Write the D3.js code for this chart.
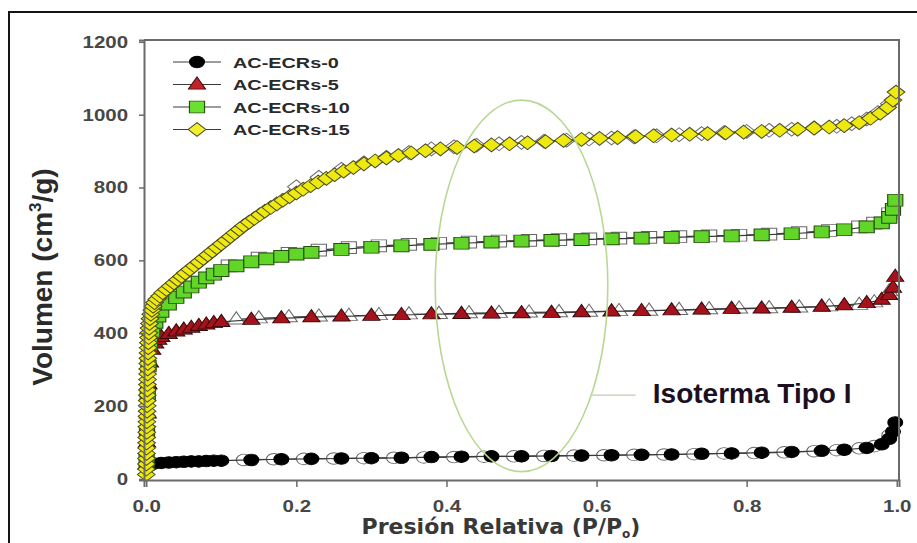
<!DOCTYPE html>
<html>
<head>
<meta charset="utf-8">
<script src="https://cdn.jsdelivr.net/npm/d3@7"></script>
<style>
  html, body { margin: 0; padding: 0; background: #ffffff; }
  svg { display: block; }
</style>
</head>
<body>
<svg id="chart" width="917" height="543"></svg>
<script>
// ---------------- DATA ----------------
const seriesNames = ["AC-ECRs-0", "AC-ECRs-5", "AC-ECRs-10", "AC-ECRs-15"];
const xTicks = [0.0, 0.2, 0.4, 0.6, 0.8, 1.0];
const yTicks = [0, 200, 400, 600, 800, 1000, 1200];

// AC-ECRs-0 (adsorption, filled)
const p0Ads = [0.004, 0.01, 0.02, 0.03, 0.04, 0.05, 0.06, 0.07, 0.08, 0.09, 0.10, 0.14, 0.18, 0.22, 0.26, 0.30, 0.34, 0.38, 0.42, 0.46, 0.50, 0.54, 0.58, 0.62, 0.66, 0.70, 0.74, 0.78, 0.82, 0.86, 0.90, 0.93, 0.96, 0.98, 0.99, 0.995, 0.998];
const v0Ads = [36, 42, 44, 45, 46, 47, 48, 48, 49, 50, 50, 52, 54, 55, 56, 57, 58, 60, 61, 62, 62, 63, 64, 65, 66, 67, 69, 70, 72, 74, 77, 80, 85, 95, 110, 130, 155];
// AC-ECRs-0 (desorption, open)
const p0Des = [0.99, 0.97, 0.95, 0.92, 0.89, 0.85, 0.81, 0.77, 0.73, 0.69, 0.65, 0.61, 0.57, 0.53, 0.49, 0.45, 0.41, 0.37, 0.33, 0.29, 0.25, 0.21, 0.17, 0.13];
const v0Des = [120, 90, 84, 79, 76, 73, 71, 70, 68, 67, 66, 65, 64, 63, 62, 61, 60, 59, 58, 57, 56, 55, 54, 52];

// AC-ECRs-5
const p5Ads = [0.0005, 0.001, 0.002, 0.003, 0.005, 0.008, 0.012, 0.016, 0.02, 0.03, 0.04, 0.05, 0.06, 0.07, 0.08, 0.09, 0.10, 0.14, 0.18, 0.22, 0.26, 0.30, 0.34, 0.38, 0.42, 0.46, 0.50, 0.54, 0.58, 0.62, 0.66, 0.70, 0.74, 0.78, 0.82, 0.86, 0.90, 0.93, 0.96, 0.98, 0.99, 0.995, 0.998];
const v5Ads = [40, 100, 180, 260, 320, 355, 372, 382, 390, 398, 405, 410, 415, 420, 424, 428, 431, 437, 441, 444, 446, 448, 450, 452, 453, 454, 455, 456, 458, 460, 461, 463, 465, 467, 468, 470, 473, 477, 483, 492, 505, 525, 555];
const p5Des = [0.99, 0.97, 0.95, 0.91, 0.87, 0.83, 0.79, 0.75, 0.71, 0.67, 0.63, 0.59, 0.55, 0.51, 0.47, 0.43, 0.39, 0.35, 0.31, 0.27, 0.23, 0.19, 0.15, 0.12];
const v5Des = [515, 485, 478, 474, 471, 469, 468, 466, 464, 462, 461, 459, 458, 457, 456, 455, 453, 452, 450, 448, 446, 444, 441, 438];

// AC-ECRs-10
const p10Ads = [0.0005, 0.001, 0.002, 0.003, 0.005, 0.008, 0.012, 0.016, 0.02, 0.03, 0.04, 0.05, 0.06, 0.07, 0.08, 0.09, 0.10, 0.12, 0.14, 0.16, 0.18, 0.20, 0.22, 0.26, 0.30, 0.34, 0.38, 0.42, 0.46, 0.50, 0.54, 0.58, 0.62, 0.66, 0.70, 0.74, 0.78, 0.82, 0.86, 0.90, 0.93, 0.96, 0.98, 0.99, 0.995, 0.998];
const v10Ads = [50, 130, 230, 310, 370, 405, 430, 447, 460, 480, 498, 513, 527, 540, 552, 562, 572, 585, 596, 604, 611, 617, 622, 630, 636, 640, 644, 647, 650, 653, 655, 657, 659, 661, 663, 665, 667, 670, 673, 678, 684, 692, 703, 718, 740, 765];
const p10Des = [0.99, 0.97, 0.95, 0.91, 0.87, 0.83, 0.79, 0.75, 0.71, 0.67, 0.63, 0.59, 0.55, 0.51, 0.47, 0.43, 0.39, 0.35, 0.31, 0.27, 0.23, 0.19, 0.15, 0.11];
const v10Des = [728, 702, 692, 682, 676, 672, 669, 667, 665, 663, 661, 659, 657, 655, 653, 650, 647, 644, 640, 635, 628, 619, 606, 585];

// AC-ECRs-15
const p15Ads = [0.0000, 0.0001, 0.0002, 0.0003, 0.0004, 0.0004, 0.0005, 0.0006, 0.0007, 0.0008, 0.0009, 0.0010, 0.0011, 0.0012, 0.0013, 0.0014, 0.0015, 0.0016, 0.0017, 0.0018, 0.0019, 0.0020, 0.0022, 0.0024, 0.0026, 0.0028, 0.0031, 0.0034, 0.0038, 0.0043, 0.0050, 0.0060, 0.0075, 0.0092, 0.011, 0.014, 0.018, 0.022, 0.027, 0.032, 0.037, 0.042, 0.047, 0.052, 0.058, 0.064, 0.070, 0.076, 0.082, 0.088, 0.094, 0.100, 0.106, 0.112, 0.118, 0.124, 0.130, 0.137, 0.144, 0.151, 0.158, 0.166, 0.174, 0.182, 0.191, 0.200, 0.209, 0.219, 0.229, 0.240, 0.251, 0.263, 0.276, 0.290, 0.305, 0.320, 0.336, 0.353, 0.372, 0.392, 0.414, 0.437, 0.460, 0.484, 0.508, 0.532, 0.556, 0.580, 0.604, 0.628, 0.652, 0.676, 0.700, 0.724, 0.748, 0.772, 0.796, 0.820, 0.844, 0.868, 0.890, 0.910, 0.930, 0.950, 0.965, 0.978, 0.988, 0.995, 0.999];
const v15Ads = [12, 27, 41, 56, 70, 85, 99, 114, 128, 143, 157, 172, 186, 201, 215, 230, 244, 259, 273, 288, 302, 317, 331, 346, 360, 374, 388, 401, 414, 427, 440, 452, 463, 474, 484, 493, 502, 511, 520, 529, 538, 547, 556, 565, 575, 585, 595, 605, 615, 625, 635, 645, 655, 665, 675, 685, 695, 705, 715, 725, 735, 745, 755, 765, 775, 785, 795, 805, 815, 825, 835, 845, 855, 865, 873, 881, 888, 895, 901, 906, 910, 914, 917, 920, 923, 926, 929, 932, 935, 937, 940, 942, 944, 946, 948, 950, 952, 954, 957, 960, 963, 966, 970, 978, 990, 1004, 1020, 1040, 1062];
const p15Des = [0.99, 0.975, 0.96, 0.94, 0.92, 0.89, 0.86, 0.83, 0.80, 0.77, 0.74, 0.71, 0.68, 0.65, 0.62, 0.59, 0.56, 0.53, 0.50, 0.47, 0.44, 0.41, 0.38, 0.35, 0.32, 0.29, 0.26, 0.23, 0.20];
const v15Des = [1030, 1006, 988, 975, 968, 964, 960, 957, 954, 951, 948, 945, 942, 939, 936, 933, 930, 927, 924, 920, 916, 912, 906, 896, 883, 868, 850, 828, 802];

// ---------------- SETUP ----------------
const svg = d3.select("#chart");
const x = d3.scaleLinear().domain([-0.003, 1.003]).range([144, 899]);
const y = d3.scaleLinear().domain([-3, 1205]).range([480, 40]);
const SX = 1.28; // horizontal stretch of the original picture

// outer frame
svg.append("rect").attr("x", 9).attr("y", 12).attr("width", 1000).attr("height", 600)
  .attr("fill", "#ffffff").attr("stroke", "#151515").attr("stroke-width", 2);

// marker shapes
function markerPath(kind) {
  if (kind === "circle") { const r = 5.8; return `M${-r},0A${r},${r} 0 1,0 ${r},0A${r},${r} 0 1,0 ${-r},0Z`; }
  if (kind === "triangle") return "M0,-7.6L6.7,4.6L-6.7,4.6Z";
  if (kind === "square") return "M-5.9,-5.9H5.9V5.9H-5.9Z";
  if (kind === "diamond") return "M0,-6.9L6.9,0L0,6.9L-6.9,0Z";
}
const styles = [
  { kind: "circle",   fill: "#000000", stroke: "#000000" },
  { kind: "triangle", fill: "#a5121c", stroke: "#3a0a0a" },
  { kind: "square",   fill: "#62d628", stroke: "#24500e" },
  { kind: "diamond",  fill: "#eeea10", stroke: "#4a4a20" }
];
const legendFills = ["#000000", "#c0242a", "#6ae030", "#f2ee30"];
const series = [
  { ads: d3.zip(p0Ads, v0Ads),   des: d3.zip(p0Des, v0Des) },
  { ads: d3.zip(p5Ads, v5Ads),   des: d3.zip(p5Des, v5Des) },
  { ads: d3.zip(p10Ads, v10Ads), des: d3.zip(p10Des, v10Des) },
  { ads: d3.zip(p15Ads, v15Ads), des: d3.zip(p15Des, v15Des) }
];
const line = d3.line().x(d => x(d[0])).y(d => y(d[1]));

const plot = svg.append("g");
series.forEach((s, i) => {
  const st = styles[i];
  const g = plot.append("g");
  // desorption branch (open markers)
  g.append("path").attr("d", line(s.des)).attr("fill", "none").attr("stroke", "#3a3a3a").attr("stroke-width", 1.2);
  g.selectAll(".des").data(s.des).enter().append("path")
    .attr("d", markerPath(st.kind))
    .attr("transform", d => `translate(${x(d[0])},${y(d[1])}) scale(${SX},1)`)
    .attr("fill", "#ffffff").attr("stroke", "#6a6a6a").attr("stroke-width", 0.9);
  // adsorption branch (filled markers)
  g.append("path").attr("d", line(s.ads)).attr("fill", "none").attr("stroke", "#3a3a3a").attr("stroke-width", 1.2);
  g.selectAll(".ads").data(s.ads).enter().append("path")
    .attr("d", markerPath(st.kind))
    .attr("transform", d => `translate(${x(d[0])},${y(d[1])}) scale(${SX},1)`)
    .attr("fill", st.fill).attr("stroke", st.stroke).attr("stroke-width", 0.9);
});

// frame (top/right)
svg.append("path").attr("d", `M${x.range()[0]},${y.range()[1]}H${x.range()[1]}V${y.range()[0]}`)
  .attr("fill", "none").attr("stroke", "#6a6a6a").attr("stroke-width", 2);

// axes
const yAxis = svg.append("g").attr("transform", `translate(${x.range()[0]},0)`)
  .call(d3.axisLeft(y).tickValues(yTicks).tickSize(5).tickFormat(d3.format("d")));
const xAxis = svg.append("g").attr("transform", `translate(0,${y.range()[0]})`)
  .call(d3.axisBottom(x).tickValues(xTicks).tickSize(7).tickFormat(d3.format(".1f")));
[xAxis, yAxis].forEach(a => {
  a.select(".domain").attr("stroke", "#6a6a6a").attr("stroke-width", 2);
  a.selectAll(".tick line").attr("stroke", "#6a6a6a").attr("stroke-width", 1.5);
  a.selectAll(".tick text").attr("font-family", "Liberation Sans, Arial, sans-serif")
    .attr("font-weight", "bold").attr("font-size", 16).attr("fill", "#474747");
});
yAxis.selectAll(".tick text").attr("x", -16 / SX).attr("dy", "0.34em").attr("transform", `scale(${SX},1)`);
xAxis.selectAll(".tick text").attr("y", 32).attr("dy", 0).attr("transform", `scale(${SX},1)`);

// legend
const legendRows = [62, 84.5, 107, 129.5];
seriesNames.forEach((name, i) => {
  const st = styles[i];
  const g = svg.append("g").attr("transform", `translate(0,${legendRows[i]})`);
  g.append("line").attr("x1", 173).attr("x2", 221).attr("y1", 0).attr("y2", 0).attr("stroke", "#3a3a3a").attr("stroke-width", 1.2);
  g.append("path").attr("d", markerPath(st.kind)).attr("transform", `translate(197,0) scale(${SX},1)`)
    .attr("fill", legendFills[i]).attr("stroke", st.stroke).attr("stroke-width", 0.9);
  g.append("text").attr("transform", `translate(233,0) scale(${SX},1)`).attr("dy", "0.36em")
    .attr("font-family", "Liberation Sans, Arial, sans-serif").attr("font-weight", "bold").attr("font-size", 15.5)
    .attr("fill", "#2a2a2a").text(name);
});

// axis titles
svg.append("text").attr("transform", "translate(52,277) rotate(-90)")
  .attr("text-anchor", "middle").attr("font-family", "Liberation Sans, Arial, sans-serif")
  .attr("font-weight", "bold").attr("font-size", 28).attr("fill", "#2a2a2a")
  .call(t => {
    t.append("tspan").text("Volumen (cm");
    t.append("tspan").attr("font-size", 17).attr("dy", -11).text("3");
    t.append("tspan").attr("dy", 11).text("/g)");
  });

svg.append("text").attr("x", 501).attr("y", 534).attr("text-anchor", "middle")
  .attr("font-family", "DejaVu Sans, Verdana, sans-serif").attr("font-weight", "bold")
  .attr("font-size", 22).attr("fill", "#383838")
  .call(t => {
    t.append("tspan").text("Presión Relativa (P/P");
    t.append("tspan").attr("font-size", 12).attr("dy", 3.5).text("o");
    t.append("tspan").attr("dy", -3.5).text(")");
  });

// annotation: ellipse + leader + label
svg.append("ellipse").attr("cx", x(0.5)).attr("cy", y(530))
  .attr("rx", x(0.615) - x(0.5)).attr("ry", y(20) - y(530))
  .attr("fill", "none").attr("stroke", "#b9d894").attr("stroke-width", 1.6);
svg.append("line").attr("x1", x(0.594)).attr("x2", x(0.652)).attr("y1", y(230)).attr("y2", y(230))
  .attr("stroke", "#bccdb0").attr("stroke-width", 1.3);
svg.append("text").attr("x", x(0.675)).attr("y", y(208))
  .attr("font-family", "Liberation Sans, Arial, sans-serif").attr("font-weight", "bold")
  .attr("font-size", 28).attr("fill", "#1c1020").text("Isoterma Tipo I");
</script>
</body>
</html>
